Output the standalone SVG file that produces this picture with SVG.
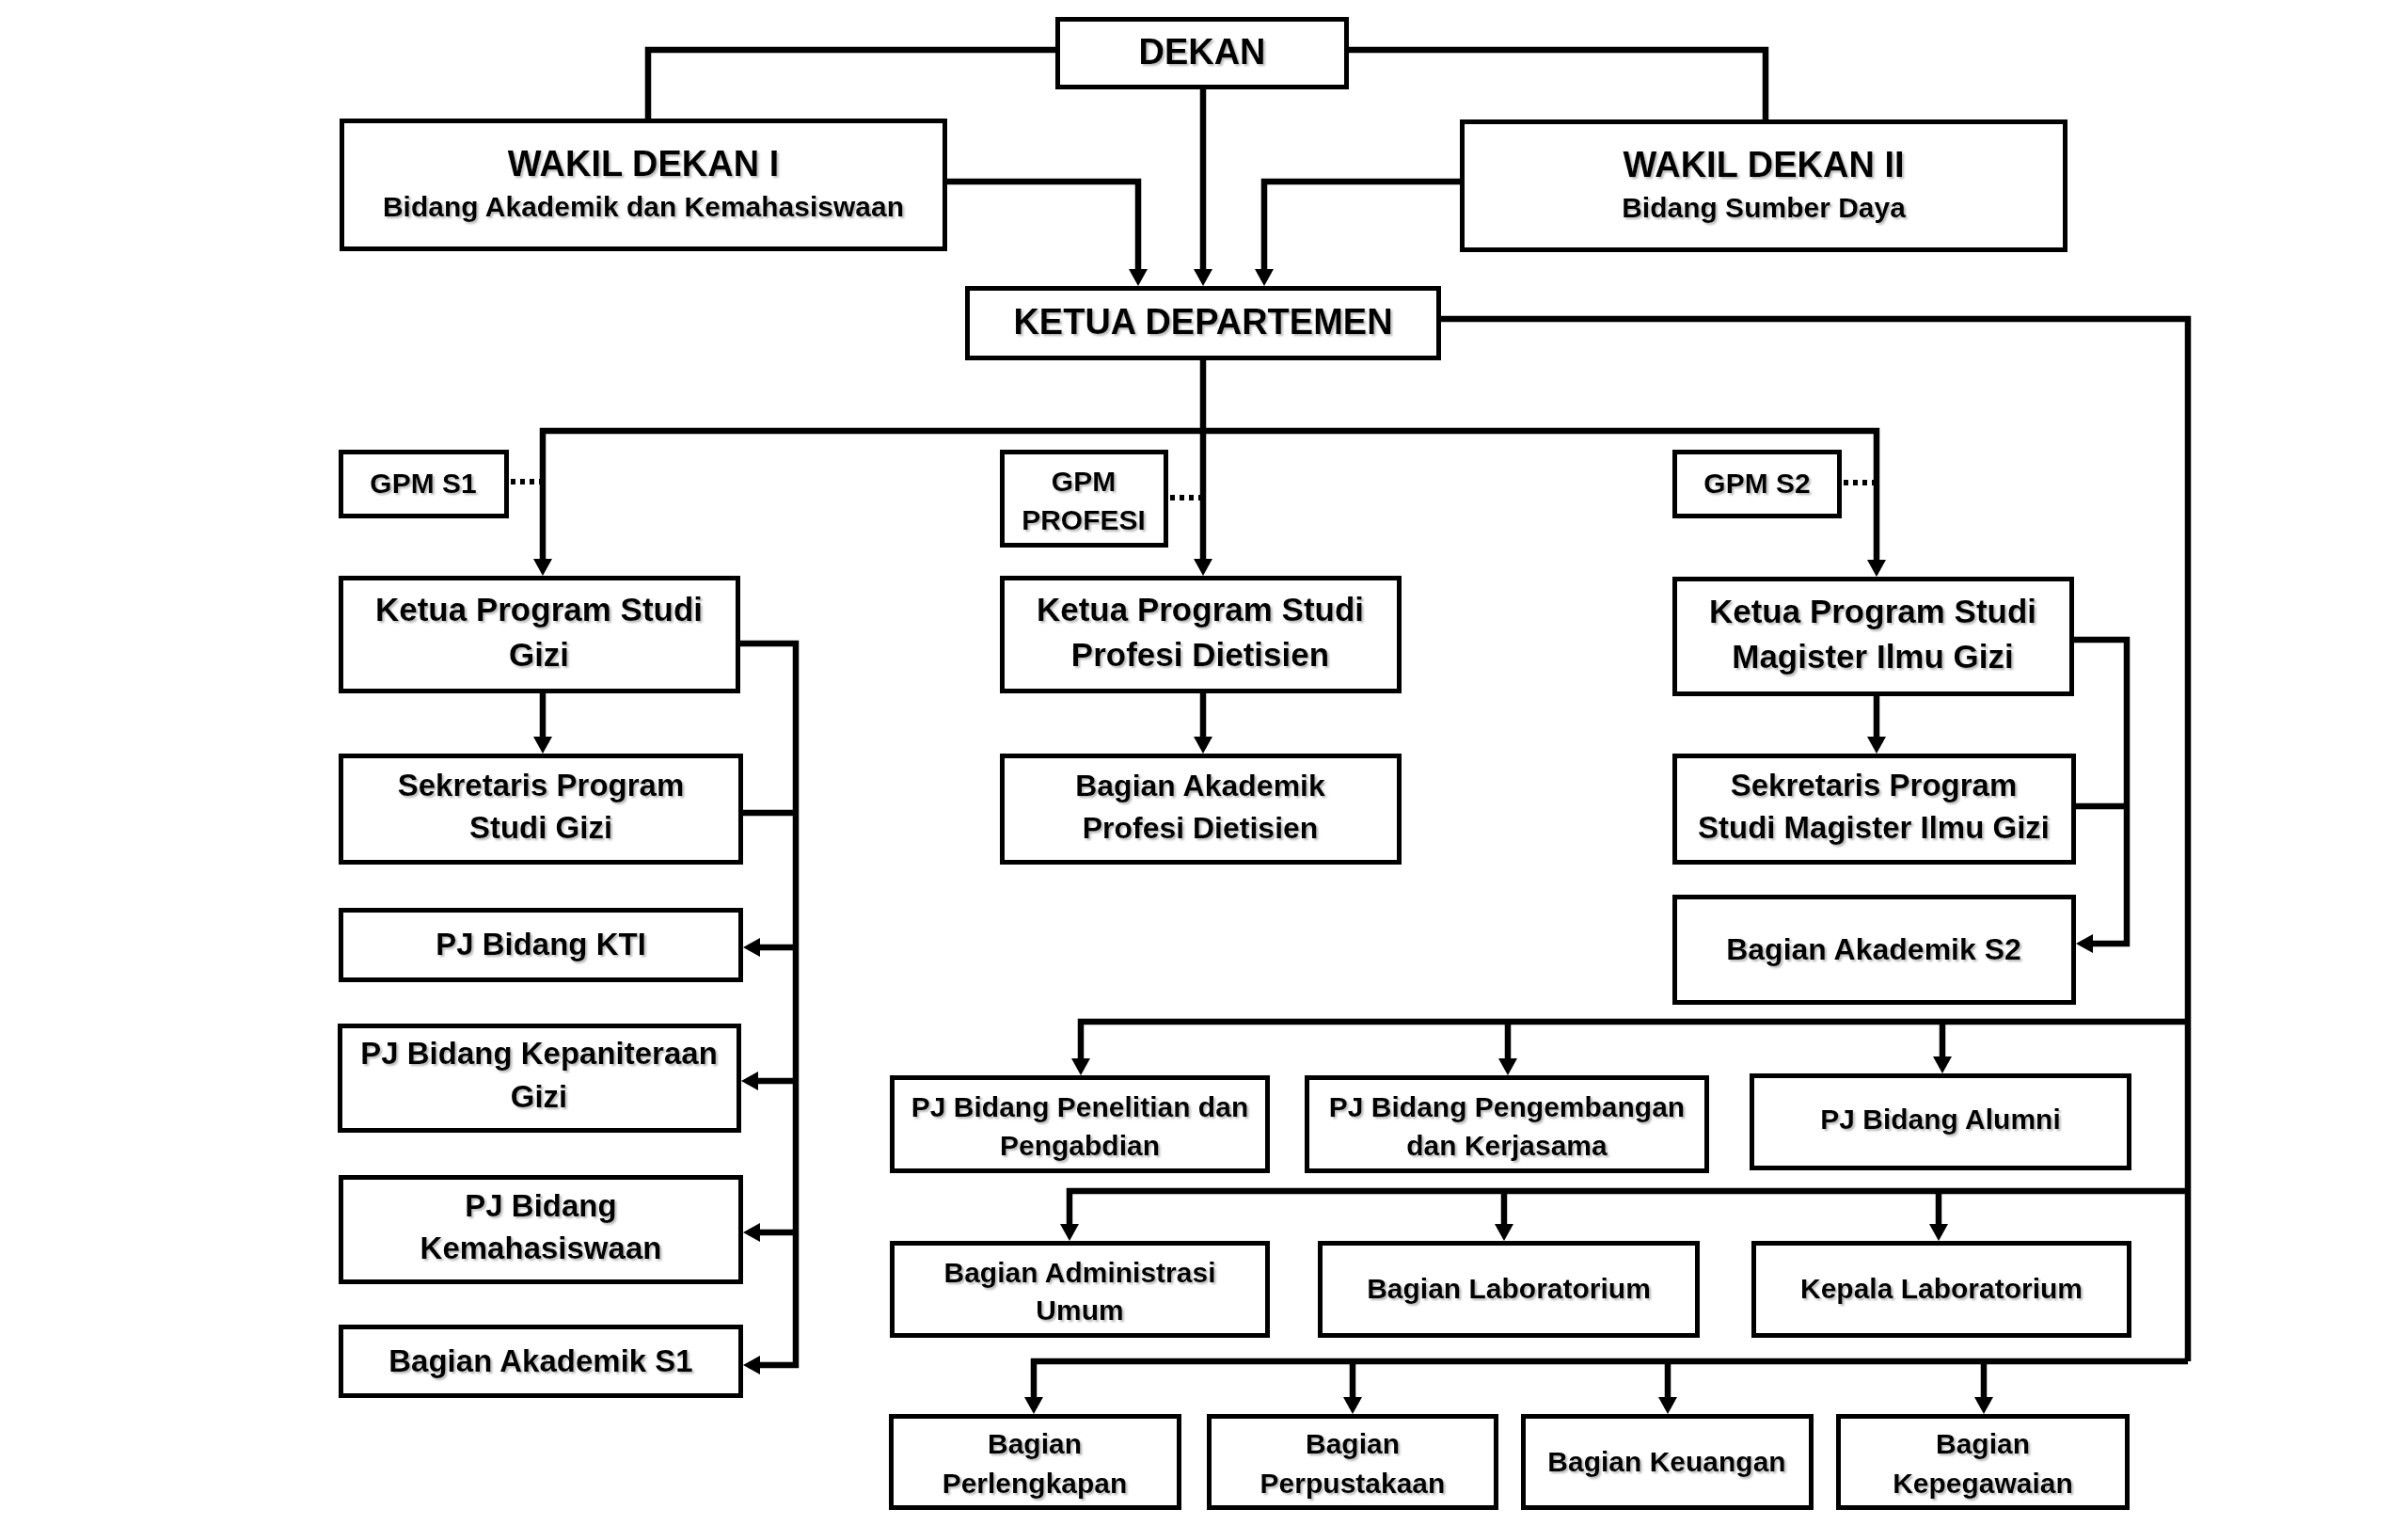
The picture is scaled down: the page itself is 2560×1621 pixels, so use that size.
<svg xmlns="http://www.w3.org/2000/svg" width="2560" height="1621" viewBox="0 0 2560 1621">
<style>
.box{fill:#fff;stroke:#000;stroke-width:5}
.ln{fill:none;stroke:#000;stroke-width:6.5;stroke-linejoin:miter}
.ar{marker-end:url(#arr)}
.dot{fill:none;stroke:#000;stroke-width:6;stroke-dasharray:5 5}
text{font-family:"Liberation Sans",Arial,sans-serif;font-weight:bold;fill:#000;text-anchor:middle;filter:url(#sh)}
.t38{font-size:38px}.t35{font-size:35px}.t33{font-size:33px}.t32{font-size:32px}.t30{font-size:30px}
</style>
<defs>
<marker id="arr" markerUnits="userSpaceOnUse" markerWidth="18" markerHeight="20" refX="12" refY="10" orient="auto"><path d="M0,0 L18,10 L0,20 z" fill="#000"/></marker>
<filter id="sh" x="-5%" y="-20%" width="110%" height="150%"><feDropShadow dx="2" dy="2" stdDeviation="1" flood-color="#888" flood-opacity="0.6"/></filter>
</defs>
<rect width="2560" height="1621" fill="#fff"/>
<g id="connectors">
<path class="ln" d="M1122,53 H689 V126"/>
<path class="ln" d="M1434,53 H1877 V127"/>
<path class="ln ar" d="M1279,95 V298"/>
<path class="ln ar" d="M1007,193 H1210 V298"/>
<path class="ln ar" d="M1552,193 H1344 V298"/>
<path class="ln ar" d="M1279,383 V606"/>
<path class="ln ar" d="M1279,458 H577 V606"/>
<path class="ln ar" d="M1279,458 H1995 V607"/>
<path class="dot" d="M543,512 H575"/>
<path class="dot" d="M1244,529 H1277"/>
<path class="dot" d="M1960,513 H1993"/>
<path class="ln ar" d="M577,737 V795"/>
<path class="ln ar" d="M1279,737 V795"/>
<path class="ln ar" d="M1995,740 V795"/>
<path class="ln ar" d="M787,684 H846 V1451 H796"/>
<path class="ln" d="M790,864 H846"/>
<path class="ln ar" d="M846,1007 H796"/>
<path class="ln ar" d="M846,1149 H794"/>
<path class="ln ar" d="M846,1310 H796"/>
<path class="ln ar" d="M2205,680 H2261 V1003 H2213"/>
<path class="ln" d="M2207,857 H2261"/>
<path class="ln" d="M1532,339 H2326 V1447"/>
<path class="ln ar" d="M2326,1086 H1149 V1137"/>
<path class="ln ar" d="M1603,1086 V1137"/>
<path class="ln ar" d="M2065,1086 V1135"/>
<path class="ln ar" d="M2326,1266 H1137 V1313"/>
<path class="ln ar" d="M1599,1266 V1313"/>
<path class="ln ar" d="M2061,1266 V1313"/>
<path class="ln ar" d="M2326,1447 H1099 V1497"/>
<path class="ln ar" d="M1438,1447 V1497"/>
<path class="ln ar" d="M1773,1447 V1497"/>
<path class="ln ar" d="M2109,1447 V1497"/>
</g>
<g id="dekan"><rect class="box" x="1124.5" y="20.5" width="307" height="72"/><text class="t38" x="1278" y="68">DEKAN</text></g>
<g id="wakil-dekan-1"><rect class="box" x="363.5" y="128.5" width="641" height="136"/><text class="t38" x="684" y="187">WAKIL DEKAN I</text><text class="t30" x="684" y="230">Bidang Akademik dan Kemahasiswaan</text></g>
<g id="wakil-dekan-2"><rect class="box" x="1554.5" y="129.5" width="641" height="136"/><text class="t38" x="1875" y="188">WAKIL DEKAN II</text><text class="t30" x="1875" y="231">Bidang Sumber Daya</text></g>
<g id="ketua-departemen"><rect class="box" x="1028.5" y="306.5" width="501" height="74"/><text class="t38" x="1279" y="355">KETUA DEPARTEMEN</text></g>
<g id="gpm-s1"><rect class="box" x="362.5" y="480.5" width="176" height="68"/><text class="t30" x="450" y="524">GPM S1</text></g>
<g id="gpm-profesi"><rect class="box" x="1065.5" y="480.5" width="174" height="99"/><text class="t30" x="1152" y="522">GPM</text><text class="t30" x="1152" y="563">PROFESI</text></g>
<g id="gpm-s2"><rect class="box" x="1780.5" y="480.5" width="175" height="68"/><text class="t30" x="1868" y="524">GPM S2</text></g>
<g id="ketua-gizi"><rect class="box" x="362.5" y="614.5" width="422" height="120"/><text class="t35" x="573" y="660">Ketua Program Studi</text><text class="t35" x="573" y="708">Gizi</text></g>
<g id="ketua-profesi"><rect class="box" x="1065.5" y="614.5" width="422" height="120"/><text class="t35" x="1276" y="660">Ketua Program Studi</text><text class="t35" x="1276" y="708">Profesi Dietisien</text></g>
<g id="ketua-magister"><rect class="box" x="1780.5" y="615.5" width="422" height="122"/><text class="t35" x="1991" y="662">Ketua Program Studi</text><text class="t35" x="1991" y="710">Magister Ilmu Gizi</text></g>
<g id="sekretaris-gizi"><rect class="box" x="362.5" y="803.5" width="425" height="113"/><text class="t33" x="575" y="846">Sekretaris Program</text><text class="t33" x="575" y="891">Studi Gizi</text></g>
<g id="bagian-akademik-profesi"><rect class="box" x="1065.5" y="803.5" width="422" height="113"/><text class="t32" x="1276" y="846">Bagian Akademik</text><text class="t32" x="1276" y="891">Profesi Dietisien</text></g>
<g id="sekretaris-s2"><rect class="box" x="1780.5" y="803.5" width="424" height="113"/><text class="t33" x="1992" y="846">Sekretaris Program</text><text class="t33" x="1992" y="891">Studi Magister Ilmu Gizi</text></g>
<g id="pj-kti"><rect class="box" x="362.5" y="967.5" width="425" height="74"/><text class="t33" x="575" y="1015">PJ Bidang KTI</text></g>
<g id="pj-kepaniteraan"><rect class="box" x="361.5" y="1090.5" width="424" height="111"/><text class="t33" x="573" y="1131">PJ Bidang Kepaniteraan</text><text class="t33" x="573" y="1177">Gizi</text></g>
<g id="pj-kemahasiswaan"><rect class="box" x="362.5" y="1251.5" width="425" height="111"/><text class="t33" x="575" y="1293">PJ Bidang</text><text class="t33" x="575" y="1338">Kemahasiswaan</text></g>
<g id="bagian-akademik-s1"><rect class="box" x="362.5" y="1410.5" width="425" height="73"/><text class="t33" x="575" y="1458">Bagian Akademik S1</text></g>
<g id="bagian-akademik-s2"><rect class="box" x="1780.5" y="953.5" width="424" height="112"/><text class="t32" x="1992" y="1020">Bagian Akademik S2</text></g>
<g id="pj-penelitian"><rect class="box" x="948.5" y="1145.5" width="399" height="99"/><text class="t30" x="1148" y="1187">PJ Bidang Penelitian dan</text><text class="t30" x="1148" y="1228">Pengabdian</text></g>
<g id="pj-pengembangan"><rect class="box" x="1389.5" y="1145.5" width="425" height="99"/><text class="t30" x="1602" y="1187">PJ Bidang Pengembangan</text><text class="t30" x="1602" y="1228">dan Kerjasama</text></g>
<g id="pj-alumni"><rect class="box" x="1862.5" y="1143.5" width="401" height="98"/><text class="t30" x="2063" y="1200">PJ Bidang Alumni</text></g>
<g id="bagian-administrasi"><rect class="box" x="948.5" y="1321.5" width="399" height="98"/><text class="t30" x="1148" y="1363">Bagian Administrasi</text><text class="t30" x="1148" y="1403">Umum</text></g>
<g id="bagian-laboratorium"><rect class="box" x="1403.5" y="1321.5" width="401" height="98"/><text class="t30" x="1604" y="1380">Bagian Laboratorium</text></g>
<g id="kepala-laboratorium"><rect class="box" x="1864.5" y="1321.5" width="399" height="98"/><text class="t30" x="2064" y="1380">Kepala Laboratorium</text></g>
<g id="bagian-perlengkapan"><rect class="box" x="947.5" y="1505.5" width="306" height="97"/><text class="t30" x="1100" y="1545">Bagian</text><text class="t30" x="1100" y="1587">Perlengkapan</text></g>
<g id="bagian-perpustakaan"><rect class="box" x="1285.5" y="1505.5" width="305" height="97"/><text class="t30" x="1438" y="1545">Bagian</text><text class="t30" x="1438" y="1587">Perpustakaan</text></g>
<g id="bagian-keuangan"><rect class="box" x="1619.5" y="1505.5" width="306" height="97"/><text class="t30" x="1772" y="1564">Bagian Keuangan</text></g>
<g id="bagian-kepegawaian"><rect class="box" x="1954.5" y="1505.5" width="307" height="97"/><text class="t30" x="2108" y="1545">Bagian</text><text class="t30" x="2108" y="1587">Kepegawaian</text></g>
</svg>
